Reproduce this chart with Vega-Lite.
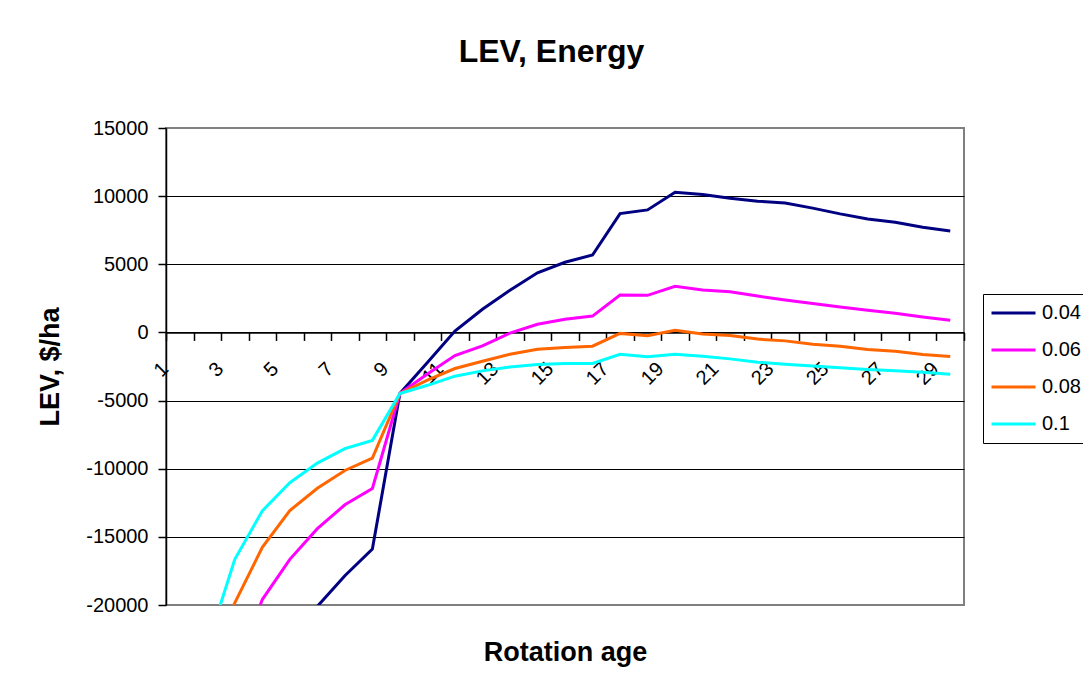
{
  "$schema": "https://vega.github.io/schema/vega-lite/v6.json",
  "width": 798,
  "height": 477,
  "autosize": {"type": "none"},
  "padding": {"left": 166, "top": 128, "right": 119, "bottom": 86},
  "background": "white",
  "title": {"text": "LEV, Energy", "font": "Liberation Sans", "fontSize": 32, "fontWeight": "bold", "color": "black", "anchor": "middle", "frame": "group", "dx": -13.5, "baseline": "alphabetic", "offset": 24},
  "datasets": {
    "lev": [
      {"age": 1, "rate": "0.04", "lev": -60000}, {"age": 2, "rate": "0.04", "lev": -45000}, {"age": 3, "rate": "0.04", "lev": -35000}, {"age": 4, "rate": "0.04", "lev": -28000}, {"age": 5, "rate": "0.04", "lev": -23500}, {"age": 6, "rate": "0.04", "lev": -20100}, {"age": 7, "rate": "0.04", "lev": -17850}, {"age": 8, "rate": "0.04", "lev": -15900}, {"age": 9, "rate": "0.04", "lev": -4480}, {"age": 10, "rate": "0.04", "lev": -2200}, {"age": 11, "rate": "0.04", "lev": 100}, {"age": 12, "rate": "0.04", "lev": 1700}, {"age": 13, "rate": "0.04", "lev": 3100}, {"age": 14, "rate": "0.04", "lev": 4380}, {"age": 15, "rate": "0.04", "lev": 5150}, {"age": 16, "rate": "0.04", "lev": 5680}, {"age": 17, "rate": "0.04", "lev": 8720}, {"age": 18, "rate": "0.04", "lev": 8990}, {"age": 19, "rate": "0.04", "lev": 10290}, {"age": 20, "rate": "0.04", "lev": 10120}, {"age": 21, "rate": "0.04", "lev": 9850}, {"age": 22, "rate": "0.04", "lev": 9630}, {"age": 23, "rate": "0.04", "lev": 9500}, {"age": 24, "rate": "0.04", "lev": 9120}, {"age": 25, "rate": "0.04", "lev": 8700}, {"age": 26, "rate": "0.04", "lev": 8330}, {"age": 27, "rate": "0.04", "lev": 8090}, {"age": 28, "rate": "0.04", "lev": 7720}, {"age": 29, "rate": "0.04", "lev": 7450},
      {"age": 1, "rate": "0.06", "lev": -45000}, {"age": 2, "rate": "0.06", "lev": -32000}, {"age": 3, "rate": "0.06", "lev": -25000}, {"age": 4, "rate": "0.06", "lev": -19600}, {"age": 5, "rate": "0.06", "lev": -16650}, {"age": 6, "rate": "0.06", "lev": -14400}, {"age": 7, "rate": "0.06", "lev": -12650}, {"age": 8, "rate": "0.06", "lev": -11450}, {"age": 9, "rate": "0.06", "lev": -4480}, {"age": 10, "rate": "0.06", "lev": -3050}, {"age": 11, "rate": "0.06", "lev": -1700}, {"age": 12, "rate": "0.06", "lev": -990}, {"age": 13, "rate": "0.06", "lev": -50}, {"age": 14, "rate": "0.06", "lev": 600}, {"age": 15, "rate": "0.06", "lev": 970}, {"age": 16, "rate": "0.06", "lev": 1200}, {"age": 17, "rate": "0.06", "lev": 2740}, {"age": 18, "rate": "0.06", "lev": 2720}, {"age": 19, "rate": "0.06", "lev": 3380}, {"age": 20, "rate": "0.06", "lev": 3110}, {"age": 21, "rate": "0.06", "lev": 2985}, {"age": 22, "rate": "0.06", "lev": 2670}, {"age": 23, "rate": "0.06", "lev": 2380}, {"age": 24, "rate": "0.06", "lev": 2130}, {"age": 25, "rate": "0.06", "lev": 1860}, {"age": 26, "rate": "0.06", "lev": 1620}, {"age": 27, "rate": "0.06", "lev": 1400}, {"age": 28, "rate": "0.06", "lev": 1130}, {"age": 29, "rate": "0.06", "lev": 900},
      {"age": 1, "rate": "0.08", "lev": -30000}, {"age": 2, "rate": "0.08", "lev": -24000}, {"age": 3, "rate": "0.08", "lev": -19850}, {"age": 4, "rate": "0.08", "lev": -15770}, {"age": 5, "rate": "0.08", "lev": -13070}, {"age": 6, "rate": "0.08", "lev": -11440}, {"age": 7, "rate": "0.08", "lev": -10130}, {"age": 8, "rate": "0.08", "lev": -9220}, {"age": 9, "rate": "0.08", "lev": -4480}, {"age": 10, "rate": "0.08", "lev": -3500}, {"age": 11, "rate": "0.08", "lev": -2650}, {"age": 12, "rate": "0.08", "lev": -2110}, {"age": 13, "rate": "0.08", "lev": -1600}, {"age": 14, "rate": "0.08", "lev": -1240}, {"age": 15, "rate": "0.08", "lev": -1100}, {"age": 16, "rate": "0.08", "lev": -1010}, {"age": 17, "rate": "0.08", "lev": -70}, {"age": 18, "rate": "0.08", "lev": -250}, {"age": 19, "rate": "0.08", "lev": 150}, {"age": 20, "rate": "0.08", "lev": -120}, {"age": 21, "rate": "0.08", "lev": -220}, {"age": 22, "rate": "0.08", "lev": -490}, {"age": 23, "rate": "0.08", "lev": -620}, {"age": 24, "rate": "0.08", "lev": -860}, {"age": 25, "rate": "0.08", "lev": -1010}, {"age": 26, "rate": "0.08", "lev": -1250}, {"age": 27, "rate": "0.08", "lev": -1380}, {"age": 28, "rate": "0.08", "lev": -1620}, {"age": 29, "rate": "0.08", "lev": -1770},
      {"age": 1, "rate": "0.1", "lev": -30000}, {"age": 2, "rate": "0.1", "lev": -23000}, {"age": 3, "rate": "0.1", "lev": -16650}, {"age": 4, "rate": "0.1", "lev": -13090}, {"age": 5, "rate": "0.1", "lev": -11030}, {"age": 6, "rate": "0.1", "lev": -9590}, {"age": 7, "rate": "0.1", "lev": -8530}, {"age": 8, "rate": "0.1", "lev": -7920}, {"age": 9, "rate": "0.1", "lev": -4480}, {"age": 10, "rate": "0.1", "lev": -3880}, {"age": 11, "rate": "0.1", "lev": -3210}, {"age": 12, "rate": "0.1", "lev": -2820}, {"age": 13, "rate": "0.1", "lev": -2530}, {"age": 14, "rate": "0.1", "lev": -2350}, {"age": 15, "rate": "0.1", "lev": -2280}, {"age": 16, "rate": "0.1", "lev": -2280}, {"age": 17, "rate": "0.1", "lev": -1600}, {"age": 18, "rate": "0.1", "lev": -1790}, {"age": 19, "rate": "0.1", "lev": -1600}, {"age": 20, "rate": "0.1", "lev": -1740}, {"age": 21, "rate": "0.1", "lev": -1940}, {"age": 22, "rate": "0.1", "lev": -2180}, {"age": 23, "rate": "0.1", "lev": -2330}, {"age": 24, "rate": "0.1", "lev": -2460}, {"age": 25, "rate": "0.1", "lev": -2600}, {"age": 26, "rate": "0.1", "lev": -2720}, {"age": 27, "rate": "0.1", "lev": -2820}, {"age": 28, "rate": "0.1", "lev": -2920}, {"age": 29, "rate": "0.1", "lev": -3070}
    ]
  },
  "data": {"name": "lev"},
  "mark": {"type": "line", "clip": true, "strokeWidth": 3},
  "encoding": {
    "x": {
      "field": "age",
      "type": "ordinal",
      "bandPosition": 0.5,
      "scale": {"type": "band", "paddingInner": 0, "paddingOuter": 0},
      "axis": {
        "title": "Rotation age",
        "titleFont": "Liberation Sans",
        "titleFontSize": 27,
        "titleFontWeight": "bold",
        "titleColor": "black",
        "titleY": 327.6,
        "titleBaseline": "alphabetic",
        "offset": -272.57,
        "domainColor": "black",
        "domainWidth": 1.5,
        "tickColor": "black",
        "tickWidth": 1.5,
        "tickSize": 8,
        "tickBand": "extent",
        "labelAngle": -45,
        "labelAlign": "right",
        "labelBaseline": "middle",
        "labelOffset": -15,
        "labelPadding": 25,
        "labelFont": "Liberation Sans",
        "labelFontSize": 20,
        "labelColor": "black",
        "labelExpr": "datum.value % 2 == 1 ? datum.label : ''",
        "labelOverlap": false,
        "labelBound": false,
        "grid": false
      }
    },
    "y": {
      "field": "lev",
      "type": "quantitative",
      "scale": {"domain": [-20000, 15000], "nice": false, "zero": false},
      "axis": {
        "title": "LEV, $/ha",
        "titleFont": "Liberation Sans",
        "titleFontSize": 27,
        "titleFontWeight": "bold",
        "titleColor": "black",
        "titleX": -116,
        "titleBaseline": "middle",
        "values": [-20000, -15000, -10000, -5000, 0, 5000, 10000, 15000],
        "labelExpr": "'' + datum.value",
        "grid": true,
        "gridColor": {"condition": {"test": "datum.value == 15000 || datum.value == -20000", "value": "#808080"}, "value": "black"},
        "gridWidth": 1,
        "domainColor": "black",
        "domainWidth": 1.5,
        "tickColor": "black",
        "tickWidth": 1.5,
        "tickSize": 8,
        "labelFont": "Liberation Sans",
        "labelFontSize": 20,
        "labelColor": "black",
        "labelPadding": 10
      }
    },
    "color": {
      "field": "rate",
      "type": "nominal",
      "scale": {"domain": ["0.04", "0.06", "0.08", "0.1"], "range": ["#000080", "#FF00FF", "#FF6600", "#00FFFF"]},
      "legend": {
        "title": null,
        "orient": "none",
        "legendX": 817,
        "legendY": 166,
        "strokeColor": "black",
        "fillColor": "white",
        "padding": 7,
        "symbolType": "stroke",
        "symbolSize": 1936,
        "symbolStrokeWidth": 3,
        "labelFont": "Liberation Sans",
        "labelFontSize": 20,
        "labelColor": "black",
        "labelOffset": 5,
        "clipHeight": 24,
        "rowPadding": 13
      }
    }
  },
  "config": {
    "font": "Liberation Sans",
    "view": {"stroke": "#808080", "strokeWidth": 2}
  }
}
